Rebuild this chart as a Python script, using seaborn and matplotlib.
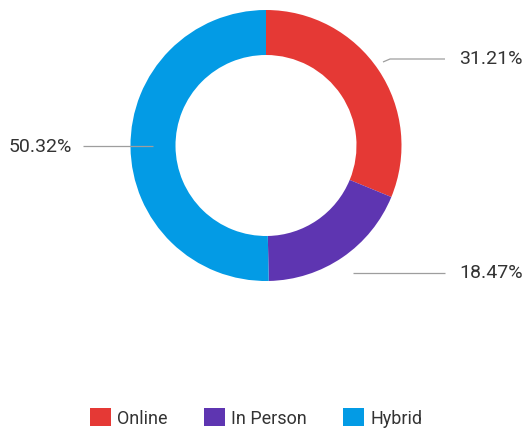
import matplotlib
matplotlib.use("Agg")
import matplotlib.pyplot as plt
from matplotlib.patches import Patch
import seaborn as sns

categories = ["Online", "In Person", "Hybrid"]
shares = [31.21, 18.47, 50.32]
colors = ["#E53935", "#5E35B1", "#039BE5"]

sns.set_theme(style="white")
plt.rcParams["font.family"] = ["Roboto", "DejaVu Sans"]

W, H = 525, 436
fig = plt.figure(figsize=(W / 100, H / 100), dpi=100)
ax = fig.add_axes([0, 0, 1, 1])

cx, cy, r = 266, H - 145.5, 135.5
wedges, _ = ax.pie(
    shares, colors=colors, startangle=90, counterclock=False,
    center=(cx, cy), radius=r, frame=True,
    wedgeprops=dict(width=45, linewidth=0),
)
ax.set_xlim(0, W)
ax.set_ylim(0, H)
ax.set_aspect("equal")
ax.axis("off")

# leader lines (pixel positions from the top edge) and percentage labels
label_cfg = [
    dict(x0=383, y0=62, x1=390, y1=59, x2=445, tx=459, ty=59, ha="left"),
    dict(x0=353, y0=273, x1=353, y1=273, x2=445, tx=459, ty=273, ha="left"),
    dict(x0=153, y0=146, x1=153, y1=146, x2=83, tx=72, ty=147, ha="right"),
]
for val, c in zip(shares, label_cfg):
    ax.plot([c["x0"], c["x1"], c["x2"]], [H - c["y0"], H - c["y1"], H - c["y1"]],
            color="#9e9e9e", lw=0.9, solid_capstyle="butt")
    ax.text(c["tx"], H - c["ty"], f"{val:.2f}%", ha=c["ha"], va="center",
            fontsize=14, color="#333333")

handles = [Patch(facecolor=col, edgecolor="none") for col in colors]
ax.legend(handles, categories, loc="center", bbox_to_anchor=(0.488, 1 - 418 / H),
          ncol=3, frameon=False, fontsize=13, handlelength=1.15, handleheight=1.15,
          handletextpad=0.35, columnspacing=2.0, labelcolor="#333333")

fig.savefig("out.png", dpi=100, facecolor="white")
